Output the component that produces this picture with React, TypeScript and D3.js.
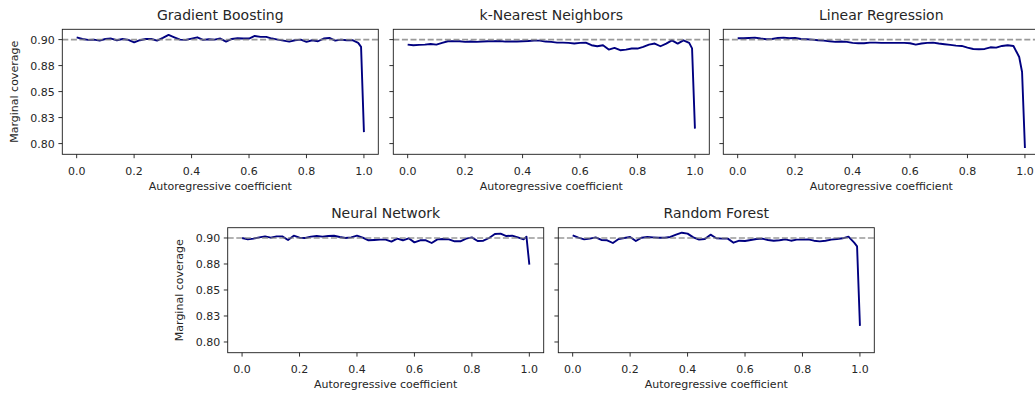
import React from 'react';
import * as d3 from 'd3';

const xValues = [
  0.0, 0.02, 0.04, 0.06, 0.08, 0.1, 0.12, 0.14, 0.16, 0.18,
  0.2, 0.22, 0.24, 0.26, 0.28, 0.3, 0.32, 0.34, 0.36, 0.38,
  0.4, 0.42, 0.44, 0.46, 0.48, 0.5, 0.52, 0.54, 0.56, 0.58,
  0.6, 0.62, 0.64, 0.66, 0.68, 0.7, 0.72, 0.74, 0.76, 0.78,
  0.8, 0.82, 0.84, 0.86, 0.88, 0.9, 0.92, 0.94, 0.96, 0.98,
  0.99, 1.0,
];

const gradientBoosting = [
  0.9022, 0.9006, 0.8997, 0.9000, 0.8990, 0.9006, 0.9010, 0.8994, 0.9006, 0.8997,
  0.8974, 0.8994, 0.9006, 0.9006, 0.8990, 0.9016, 0.9045, 0.9022, 0.9000, 0.8997,
  0.9010, 0.9022, 0.8997, 0.9003, 0.9000, 0.9010, 0.8981, 0.9006, 0.9013, 0.9010,
  0.9010, 0.9035, 0.9026, 0.9026, 0.9010, 0.9000, 0.8990, 0.8981, 0.8994, 0.9000,
  0.8978, 0.8994, 0.8984, 0.9010, 0.9016, 0.8990, 0.9000, 0.8994, 0.8994, 0.8968,
  0.8930, 0.8110,
];

const kNearestNeighbors = [
  0.8952, 0.8946, 0.8949, 0.8952, 0.8958, 0.8952, 0.8968, 0.8984, 0.8984, 0.8984,
  0.8978, 0.8981, 0.8978, 0.8981, 0.8984, 0.8984, 0.8987, 0.8981, 0.8981, 0.8981,
  0.8984, 0.8987, 0.8990, 0.8990, 0.8981, 0.8978, 0.8971, 0.8971, 0.8968, 0.8962,
  0.8968, 0.8971, 0.8946, 0.8936, 0.8946, 0.8904, 0.8920, 0.8898, 0.8904, 0.8914,
  0.8914, 0.8930, 0.8952, 0.8962, 0.8936, 0.8962, 0.8993, 0.8962, 0.8993, 0.8968,
  0.8915, 0.8144,
];

const linearRegression = [
  0.9013, 0.9013, 0.9016, 0.9019, 0.9010, 0.9003, 0.9006, 0.9016, 0.9019, 0.9013,
  0.9016, 0.9006, 0.9003, 0.9000, 0.8994, 0.8990, 0.8984, 0.8978, 0.8981, 0.8978,
  0.8968, 0.8965, 0.8965, 0.8971, 0.8971, 0.8968, 0.8968, 0.8968, 0.8968, 0.8968,
  0.8965, 0.8952, 0.8962, 0.8968, 0.8971, 0.8962, 0.8955, 0.8949, 0.8942, 0.8939,
  0.8923, 0.8910, 0.8907, 0.8910, 0.8926, 0.8923, 0.8939, 0.8946, 0.8938, 0.8833,
  0.8688, 0.7958,
];

const neuralNetwork = [
  0.9000, 0.8987, 0.8994, 0.9006, 0.9016, 0.9003, 0.9016, 0.9016, 0.8981, 0.9022,
  0.9003, 0.9000, 0.9013, 0.9019, 0.9013, 0.9019, 0.9022, 0.9010, 0.9000, 0.9006,
  0.9022, 0.9003, 0.8978, 0.8981, 0.8984, 0.8984, 0.8965, 0.8994, 0.8978, 0.8997,
  0.8958, 0.8978, 0.8978, 0.8952, 0.8987, 0.8990, 0.8987, 0.8968, 0.8968, 0.8994,
  0.9006, 0.8971, 0.8974, 0.9000, 0.9038, 0.9042, 0.9019, 0.9022, 0.9006, 0.8987,
  0.9013, 0.8744,
];

const randomForest = [
  0.9026, 0.9003, 0.8987, 0.8994, 0.9006, 0.8981, 0.8978, 0.8952, 0.8990, 0.9000,
  0.9010, 0.8971, 0.9003, 0.9010, 0.9006, 0.9003, 0.9003, 0.9010, 0.9032, 0.9051,
  0.9042, 0.9006, 0.8984, 0.8990, 0.9032, 0.8997, 0.8994, 0.8994, 0.8955, 0.8974,
  0.8971, 0.8981, 0.8990, 0.8994, 0.8981, 0.8974, 0.8978, 0.8987, 0.8974, 0.8984,
  0.8984, 0.8987, 0.8974, 0.8968, 0.8974, 0.8984, 0.8990, 0.8997, 0.9013, 0.8955,
  0.8920, 0.8155,
];

const yTickValues = [0.8, 0.825, 0.85, 0.875, 0.9];
const yTickLabels = ['0.80', '0.83', '0.85', '0.88', '0.90'];
const xTickValues = [0, 0.2, 0.4, 0.6, 0.8, 1.0];
const targetCoverage = 0.9;

const titles = ['Gradient Boosting', 'k-Nearest Neighbors', 'Linear Regression', 'Neural Network', 'Random Forest'];
const seriesList = [gradientBoosting, kNearestNeighbors, linearRegression, neuralNetwork, randomForest];

const PANEL_W = 316;
const PANEL_H = 125;
const positions = [
  { left: 62.3, top: 29.3, showY: true },
  { left: 393.3, top: 29.3, showY: false },
  { left: 723.3, top: 29.3, showY: false },
  { left: 227.7, top: 227.7, showY: true },
  { left: 558.3, top: 227.7, showY: false },
];

const FONT = '"DejaVu Sans", sans-serif';
const TEXT = '#262626';

function Panel({ title, values, left, top, showY }: { title: string; values: number[]; left: number; top: number; showY: boolean }) {
  const x = d3.scaleLinear().domain([-0.05, 1.05]).range([left, left + PANEL_W]);
  const y = d3.scaleLinear().domain([0.7897, 0.9099]).range([top + PANEL_H, top]);
  const line = d3.line<number>().x((_, i) => x(xValues[i])).y((d) => y(d));
  const fmt = d3.format('.1f');
  const bottom = top + PANEL_H;
  return (
    <g>
      <path d={line(values) || ''} fill="none" stroke="#000080" strokeWidth={1.9} strokeLinejoin="round" />
      <line x1={left} x2={left + PANEL_W} y1={y(targetCoverage)} y2={y(targetCoverage)} stroke="#808080" strokeOpacity={0.8} strokeWidth={1.6} strokeDasharray="6,2.6" />
      <rect x={left} y={top} width={PANEL_W} height={PANEL_H} fill="none" stroke="#1a1a1a" strokeWidth={0.9} />
      {xTickValues.map((t) => (
        <g key={t}>
          <line x1={x(t)} x2={x(t)} y1={bottom} y2={bottom + 3.9} stroke="#1a1a1a" strokeWidth={0.9} />
          <text x={x(t)} y={bottom + 20.3} textAnchor="middle" fontSize={11} fontFamily={FONT} fill={TEXT}>{fmt(t)}</text>
        </g>
      ))}
      {yTickValues.map((t, i) => (
        <g key={t}>
          <line x1={left - 3.9} x2={left} y1={y(t)} y2={y(t)} stroke="#1a1a1a" strokeWidth={0.9} />
          {showY && (
            <text x={left - 7.5} y={y(t)} dy="0.36em" textAnchor="end" fontSize={11} fontFamily={FONT} fill={TEXT}>{yTickLabels[i]}</text>
          )}
        </g>
      ))}
      <text x={left + PANEL_W / 2} y={top - 9.3} textAnchor="middle" fontSize={14} fontFamily={FONT} fill={TEXT}>{title}</text>
      <text x={left + PANEL_W / 2} y={bottom + 35.5} textAnchor="middle" fontSize={11} fontFamily={FONT} fill={TEXT}>Autoregressive coefficient</text>
      {showY && (
        <text transform={`translate(${left - 48.3},${top + PANEL_H / 2}) rotate(-90)`} textAnchor="middle" dy="0.35em" fontSize={11} fontFamily={FONT} fill={TEXT}>Marginal coverage</text>
      )}
    </g>
  );
}

export default function App() {
  return (
    <svg width={1035} height={393} style={{ position: 'absolute', left: 0, top: 0, background: '#fff' }}>
      <rect x={0} y={0} width={1035} height={393} fill="#fff" />
      {titles.map((t, i) => (
        <Panel key={t} title={t} values={seriesList[i]} {...positions[i]} />
      ))}
    </svg>
  );
}
